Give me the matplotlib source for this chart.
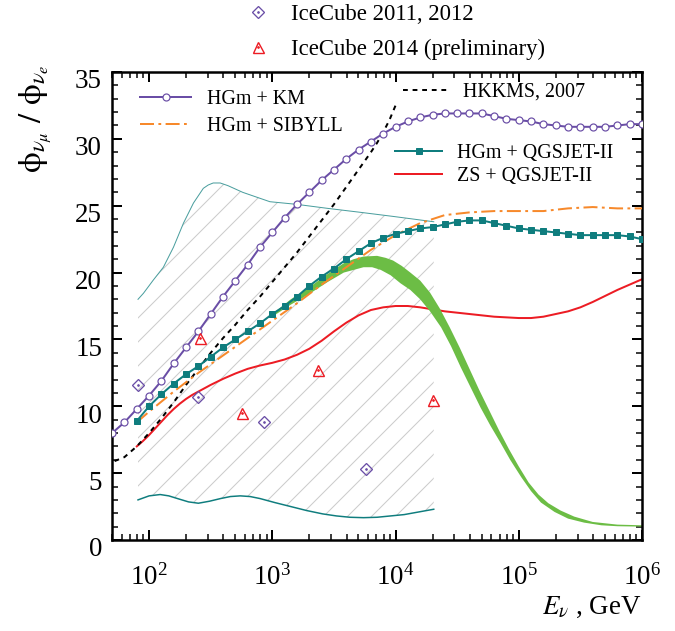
import numpy as np
import matplotlib
matplotlib.use("Agg")
import matplotlib.pyplot as plt
import matplotlib.transforms as mtransforms
from matplotlib.ticker import MultipleLocator, LogLocator, NullFormatter

plt.rcParams['font.family'] = ['Liberation Serif', 'DejaVu Serif']
plt.rcParams['mathtext.fontset'] = 'stix'
plt.rcParams['hatch.linewidth'] = 1.0

# ---------------- data (log10 of E in GeV, flux ratio) ----------------
km_logE = [1.7, 1.8, 1.9, 2.0, 2.1, 2.2, 2.3, 2.4, 2.5, 2.6, 2.7, 2.8, 2.9,
           3.0, 3.1, 3.2, 3.3, 3.4, 3.5, 3.6, 3.7, 3.8, 3.9,
           4.0, 4.1, 4.2, 4.3, 4.4, 4.5, 4.6, 4.7, 4.8, 4.9,
           5.0, 5.1, 5.2, 5.3, 5.4, 5.5, 5.6, 5.7, 5.8, 5.9, 6.0]
km_ratio = [8.0, 8.8, 9.8, 10.8, 11.9, 13.2, 14.4, 15.6, 16.9, 18.2, 19.4, 20.6, 21.9,
            23.0, 24.1, 25.1, 26.0, 26.9, 27.7, 28.5, 29.2, 29.8, 30.4,
            30.9, 31.3, 31.6, 31.8, 31.9, 31.9, 31.9, 31.9, 31.7, 31.5,
            31.4, 31.3, 31.1, 31.0, 30.9, 30.9, 30.9, 30.9, 31.0, 31.1, 31.1]

qgs_logE = [1.9, 2.0, 2.1, 2.2, 2.3, 2.4, 2.5, 2.6, 2.7, 2.8, 2.9,
            3.0, 3.1, 3.2, 3.3, 3.4, 3.5, 3.6, 3.7, 3.8, 3.9,
            4.0, 4.1, 4.2, 4.3, 4.4, 4.5, 4.6, 4.7, 4.8, 4.9,
            5.0, 5.1, 5.2, 5.3, 5.4, 5.5, 5.6, 5.7, 5.8, 5.9, 6.0]
qgs_ratio = [8.9, 10.0, 10.9, 11.7, 12.4, 13.0, 13.7, 14.4, 15.0, 15.6, 16.2,
             16.9, 17.5, 18.2, 19.0, 19.7, 20.3, 21.0, 21.6, 22.2, 22.6,
             22.9, 23.1, 23.3, 23.4, 23.6, 23.8, 23.9, 23.9, 23.7, 23.5,
             23.3, 23.2, 23.1, 23.0, 22.9, 22.8, 22.8, 22.8, 22.8, 22.7, 22.5]

sib_logE = [1.9, 2.0, 2.2, 2.4, 2.6, 2.8, 3.0, 3.2, 3.4, 3.6, 3.8, 4.0,
            4.2, 4.4, 4.6, 4.8, 5.0, 5.2, 5.4, 5.6, 5.8, 6.0]
sib_ratio = [8.8, 9.6, 11.1, 12.5, 13.8, 15.1, 16.4, 17.7, 19.1, 20.4, 21.7, 22.8,
             23.7, 24.3, 24.5, 24.6, 24.6, 24.6, 24.8, 24.9, 24.8, 24.8]

zs_logE = [1.9, 1.95, 2.0, 2.05, 2.1, 2.15, 2.2, 2.25, 2.3, 2.35, 2.4, 2.5, 2.6, 2.7,
           2.8, 2.9, 3.0, 3.1, 3.2, 3.3, 3.4, 3.5, 3.6, 3.7, 3.8, 3.9, 4.0, 4.1,
           4.2, 4.4, 4.6, 4.8, 5.0, 5.1, 5.2, 5.3, 5.4, 5.5, 5.6, 5.7, 5.8, 5.9, 6.0]
zs_ratio = [7.0, 7.4, 7.85, 8.35, 8.85, 9.35, 9.8, 10.2, 10.55, 10.85, 11.1, 11.6, 12.05, 12.45,
            12.8, 13.05, 13.25, 13.5, 13.85, 14.3, 14.9, 15.6, 16.25, 16.8, 17.2, 17.4, 17.5, 17.5,
            17.4, 17.1, 16.9, 16.7, 16.6, 16.6, 16.7, 16.9, 17.1, 17.4, 17.8, 18.25, 18.7, 19.1, 19.5]

hk_logE = [1.72, 1.80, 1.90, 2.0, 2.1, 2.2, 2.3, 2.4, 2.5, 2.6, 2.7, 2.8, 2.9,
           3.0, 3.1, 3.2, 3.3, 3.4, 3.5, 3.6, 3.7, 3.8, 3.85, 3.9, 3.95, 4.0]
hk_ratio = [5.9, 6.2, 7.0, 8.0, 9.1, 10.3, 11.6, 12.8, 14.0, 15.1, 16.1, 17.2, 18.2,
            19.3, 20.4, 21.5, 22.7, 23.9, 25.1, 26.4, 27.7, 29.0, 29.7, 30.5, 31.4, 32.5]

band_up_logE = [3.0, 3.15, 3.3, 3.45, 3.58, 3.66, 3.74, 3.85, 3.92, 3.98, 4.05, 4.12,
                4.20, 4.28, 4.36, 4.44, 4.52, 4.60, 4.68, 4.76, 4.84, 4.92, 5.00,
                5.08, 5.16, 5.24, 5.34, 5.45, 5.6, 5.8, 6.0]
band_up = [16.9, 18.0, 18.9, 19.9, 20.7, 21.0, 21.2, 21.25, 21.1, 20.9, 20.5, 20.0,
           19.4, 18.5, 17.3, 15.9, 14.4, 12.8, 11.2, 9.7, 8.2, 6.8, 5.5,
           4.3, 3.4, 2.75, 2.2, 1.75, 1.35, 1.15, 1.1]
band_lo_logE = [3.0, 3.15, 3.3, 3.45, 3.58, 3.74, 3.81, 3.88, 3.96, 4.04, 4.12, 4.20,
                4.28, 4.37, 4.45, 4.53, 4.61, 4.69, 4.77, 4.85, 4.93, 5.02, 5.10,
                5.18, 5.29, 5.40, 5.53, 5.67, 5.8, 6.0]
band_lo = [16.7, 17.6, 18.4, 19.3, 20.0, 20.4, 20.4, 20.2, 19.8, 19.2, 18.7, 18.0,
           17.1, 15.9, 14.5, 12.9, 11.4, 9.9, 8.55, 7.3, 6.0, 4.7, 3.65,
           2.8, 2.1, 1.6, 1.3, 1.1, 1.03, 1.0]

hatch_up_logE = [1.91, 1.954, 2.035, 2.116, 2.198, 2.279, 2.36, 2.44, 2.48, 2.52, 2.577,
                 2.64, 2.76, 2.98, 3.20, 3.45, 3.72, 3.98, 4.31]
hatch_up = [18.0, 18.45, 19.45, 20.4, 21.9, 23.7, 25.2, 26.3, 26.55, 26.7, 26.7,
            26.5, 26.0, 25.3, 25.1, 24.8, 24.5, 24.2, 23.8]
hatch_lo_logE = [1.91, 2.0, 2.09, 2.16, 2.23, 2.32, 2.40, 2.49, 2.58, 2.66, 2.74, 2.82, 2.90,
                 3.02, 3.15, 3.28, 3.41, 3.52, 3.63, 3.74, 3.85, 3.96, 4.07, 4.19, 4.31]
hatch_lo = [3.0, 3.3, 3.4, 3.3, 3.1, 2.85, 2.75, 2.9, 3.1, 3.25, 3.3, 3.25, 3.1,
            2.8, 2.5, 2.2, 1.95, 1.8, 1.7, 1.67, 1.7, 1.8, 1.9, 2.1, 2.3]

ic12_logE = [1.91, 2.40, 2.93, 3.76]
ic12_ratio = [11.6, 10.7, 8.8, 5.3]
ic14_logE = [2.41, 2.75, 3.37, 4.30]
ic14_ratio = [15.1, 9.5, 12.7, 10.5]

labels_main = ["HGm + KM", "HGm + SIBYLL", "HKKMS, 2007", "HGm + QGSJET-II", "ZS + QGSJET-II"]
labels_ic = ["IceCube 2011, 2012", "IceCube 2014 (preliminary)"]

# colours
purple = '#6a4ea6'
orange = '#f7892b'
teal = '#0f7d7e'
teal_light = '#4a9e9e'
red = '#ec1c24'
green = '#6cbd45'
hatchgray = '#cbcbcb'

def E(l):
    return 10 ** np.asarray(l, dtype=float)

W, H = 675, 631
fig = plt.figure(figsize=(W / 72, H / 72), dpi=72)
ax = fig.add_axes([112 / W, 1 - 540 / H, (642 - 112) / W, (540 - 72) / H])
ax.set_xscale('log')
ax.set_xlim(50, 1e6)
ax.set_ylim(0, 35)

# hatched region
hx = np.concatenate([E(hatch_up_logE), E(hatch_lo_logE)[::-1]])
hy = np.concatenate([hatch_up, hatch_lo[::-1]])
ax.fill(hx, hy, facecolor='none', edgecolor=hatchgray, linewidth=0, hatch='/', zorder=1)
ax.plot(E(hatch_up_logE), hatch_up, color=teal_light, lw=1.0, zorder=1.5)
ax.plot(E(hatch_lo_logE), hatch_lo, color=teal, lw=1.5, zorder=1.5)

# ZS red
l_zs, = ax.plot(E(zs_logE), zs_ratio, color=red, lw=2.0, zorder=2)
# green band
bx = np.concatenate([E(band_up_logE), E(band_lo_logE)[::-1]])
by = np.concatenate([band_up, band_lo[::-1]])
ax.fill(bx, by, facecolor=green, edgecolor='none', zorder=2.5)

# HKKMS
l_hk, = ax.plot(E(hk_logE), hk_ratio, color='black', lw=2.0, dashes=(2.4, 2.4), zorder=3)
# SIBYLL
l_sib, = ax.plot(E(sib_logE), sib_ratio, color=orange, lw=2.0, dashes=(7, 2.2, 1.4, 2.2), zorder=3)
# QGSJET
l_qgs, = ax.plot(E(qgs_logE), qgs_ratio, color=teal, lw=2.0, marker='s', ms=6.5,
                 mfc=teal, mec=teal, zorder=3.2)
# KM
l_km, = ax.plot(E(km_logE), km_ratio, color=purple, lw=2.0, marker='o', ms=7,
                mfc='white', mec=purple, mew=1.2, zorder=3.3)

# IceCube points
p12, = ax.plot(E(ic12_logE), ic12_ratio, ls='none', marker='D', ms=8, mfc='none',
               mec=purple, mew=1.3, zorder=4)
p12d, = ax.plot(E(ic12_logE), ic12_ratio, ls='none', marker='o', ms=1.6, color=purple, zorder=4)
p14, = ax.plot(E(ic14_logE), ic14_ratio, ls='none', marker='^', ms=11, mfc='none',
               mec=red, mew=1.4, zorder=4)
p14d, = ax.plot(E(ic14_logE), ic14_ratio, ls='none', marker='o', ms=1.6, color=red, zorder=4)

# axes styling
for s in ax.spines.values():
    s.set_linewidth(2.5)
ax.yaxis.set_major_locator(MultipleLocator(5))
ax.yaxis.set_minor_locator(MultipleLocator(1))
ax.xaxis.set_major_locator(LogLocator(base=10, numticks=10))
ax.xaxis.set_minor_locator(LogLocator(base=10, subs=np.arange(2, 10), numticks=20))
ax.xaxis.set_minor_formatter(NullFormatter())
ax.tick_params(which='both', direction='in', top=True, right=True, labelsize=27)
ax.tick_params(which='major', length=10, width=2)
ax.tick_params(which='minor', length=6, width=1.5)
ax.tick_params(axis='y', pad=10)
ax.tick_params(axis='x', pad=24)

# y tick labels sit slightly below their ticks in the reference
shift = mtransforms.ScaledTranslation(0, -7 / 72, fig.dpi_scale_trans)
for lab in ax.get_yticklabels():
    lab.set_transform(lab.get_transform() + shift)

ax.set_ylabel(r'$\mathrm{\phi}_{\nu_{\mu}}\ /\ \mathrm{\phi}_{\nu_e}$', fontsize=33)
ax.yaxis.set_label_coords(-0.11, 0.9)
ax.text(1.0, -0.158, r'$E_{\nu}$ , GeV', transform=ax.transAxes, ha='right', va='baseline',
        fontsize=27)

def ax_x(px):
    return (px - 112) / (642 - 112)

def ax_y(py):
    return (540 - py) / (540 - 72)

fs = 20
legA = ax.legend([l_km, l_sib], labels_main[0:2], loc='center left',
                 bbox_to_anchor=(ax_x(140), ax_y(113)), frameon=False, fontsize=fs,
                 handlelength=2.55, handletextpad=0.8, labelspacing=0.43,
                 borderpad=0, borderaxespad=0, numpoints=1)
ax.add_artist(legA)
legB = ax.legend([l_hk], labels_main[2:3], loc='center left',
                 bbox_to_anchor=(ax_x(403), ax_y(92)), frameon=False, fontsize=fs,
                 handlelength=2.25, handletextpad=0.75, borderpad=0, borderaxespad=0)
ax.add_artist(legB)
legC = ax.legend([l_qgs, l_zs], labels_main[3:5], loc='center left',
                 bbox_to_anchor=(ax_x(395), ax_y(165)), frameon=False, fontsize=fs,
                 handlelength=2.35, handletextpad=0.75, labelspacing=0.23,
                 borderpad=0, borderaxespad=0, numpoints=1)

legT = fig.legend([(p12, p12d), (p14, p14d)], labels_ic, loc='upper left',
                  bbox_to_anchor=(241 / W, 1 - 4 / H), frameon=False, fontsize=22.8,
                  handlelength=1.45, handletextpad=0.75, labelspacing=0.6,
                  borderpad=0, borderaxespad=0, numpoints=1)

fig.savefig('out.png', dpi=72)
